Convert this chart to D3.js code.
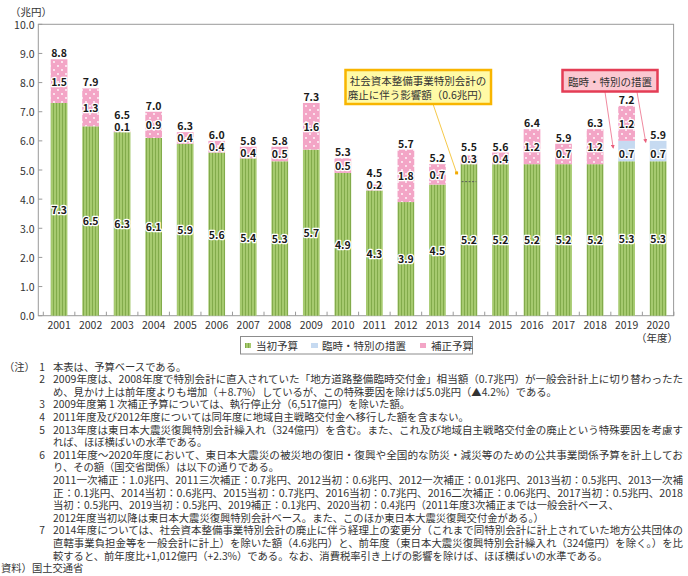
<!DOCTYPE html>
<html>
<head>
<meta charset="utf-8">
<script src="https://cdn.jsdelivr.net/npm/d3@7"></script>
<style>
  body { margin: 0; background: #fff; }
  text { font-family: "Noto Sans CJK JP", "Noto Sans", sans-serif; }
</style>
</head>
<body>
<div class="vis"></div>
<script>
// values (兆円)
const years = ["2001","2002","2003","2004","2005","2006","2007","2008","2009","2010",
    "2011","2012","2013","2014","2015","2016","2017","2018","2019","2020"];
const initialBudget = [7.3,6.5,6.3,6.1,5.9,5.6,5.4,5.3,5.7,4.9,4.3,3.9,4.5,5.2,5.2,5.2,5.2,5.2,5.3,5.3];
const specialMeasures = [0,0,0,0,0,0,0,0,0,0,0,0,0,0,0,0,0,0,0.7,0.7];
const supplementary = [1.5,1.3,0.1,0.9,0.4,0.4,0.4,0.5,1.6,0.5,0.2,1.8,0.7,0.3,0.4,1.2,0.7,1.2,1.2,0];
const totals = [8.8,7.9,6.5,7.0,6.3,6.0,5.8,5.8,7.3,5.3,4.5,5.7,5.2,5.5,5.6,6.4,5.9,6.3,7.2,5.9];
const yTicks = [0,1,2,3,4,5,6,7,8,9,10];
const seriesKeys = ["initial","special","supp"];
const seriesNames = ["当初予算","臨時・特別の措置","補正予算"];
const abolitionImpact = 0.6;   // 2014 社会資本整備事業特別会計の廃止に伴う影響額

const noteLines = [
    {head: "（注）", num: "1", text: "本表は、予算ベースである。"},
    {num: "2", text: "2009年度は、2008年度で特別会計に直入されていた「地方道路整備臨時交付金」相当額（0.7兆円）が一般会計計上に切り替わったた", full: true},
    {text: "め、見かけ上は前年度よりも増加（＋8.7%）しているが、この特殊要因を除けば5.0兆円（▲4.2%）である。"},
    {num: "3", text: "2009年度第 1 次補正予算については、執行停止分（6,517億円）を除いた額。"},
    {num: "4", text: "2011年度及び2012年度については同年度に地域自主戦略交付金へ移行した額を含まない。"},
    {num: "5", text: "2013年度は東日本大震災復興特別会計繰入れ（324億円）を含む。また、これ及び地域自主戦略交付金の廃止という特殊要因を考慮す", full: true},
    {text: "れば、ほぼ横ばいの水準である。"},
    {num: "6", text: "2011年度～2020年度において、東日本大震災の被災地の復旧・復興や全国的な防災・減災等のための公共事業関係予算を計上してお", full: true},
    {text: "り、その額（国交省関係）は以下の通りである。"},
    {text: "2011一次補正：1.0兆円、2011三次補正：0.7兆円、2012当初：0.6兆円、2012一次補正：0.01兆円、2013当初：0.5兆円、2013一次補", full: true},
    {text: "正：0.1兆円、2014当初：0.6兆円、2015当初：0.7兆円、2016当初：0.7兆円、2016二次補正：0.06兆円、2017当初：0.5兆円、2018", full: true},
    {text: "当初：0.5兆円、2019当初：0.5兆円、2019補正：0.1兆円、2020当初：0.4兆円（2011年度3次補正までは一般会計ベース、"},
    {text: "2012年度当初以降は東日本大震災復興特別会計ベース。また、このほか東日本大震災復興交付金がある。）"},
    {num: "7", text: "2014年度については、社会資本整備事業特別会計の廃止に伴う経理上の変更分（これまで同特別会計に計上されていた地方公共団体の", full: true},
    {text: "直轄事業負担金等を一般会計に計上）を除いた額（4.6兆円）と、前年度（東日本大震災復興特別会計繰入れ（324億円）を除く。）を比", full: true},
    {text: "較すると、前年度比+1,012億円（+2.3%）である。なお、消費税率引き上げの影響を除けば、ほぼ横ばいの水準である。"}
];

const width = 688, height = 576,
    plot = {left: 38.3, right: 673.6, top: 24.3, bottom: 315.7};

const svg = d3.select(".vis").append("svg")
    .attr("width", width)
    .attr("height", height);

const defs = svg.append("defs");

let pg = defs.append("pattern").attr("id", "pGreen")
    .attr("patternUnits", "userSpaceOnUse").attr("width", 3).attr("height", 10);
pg.append("rect").attr("width", 3).attr("height", 10).attr("fill", "#a6ca6f");
pg.append("rect").attr("x", 2).attr("width", 1).attr("height", 10).attr("fill", "#82ab4b");

let pp = defs.append("pattern").attr("id", "pPink")
    .attr("patternUnits", "userSpaceOnUse").attr("width", 8).attr("height", 8);
pp.append("rect").attr("width", 8).attr("height", 8).attr("fill", "#f3a5c6");
pp.append("circle").attr("cx", 2).attr("cy", 2).attr("r", 0.9).attr("fill", "#fff");
pp.append("circle").attr("cx", 6).attr("cy", 6).attr("r", 0.9).attr("fill", "#fff");

const fills = {initial: "url(#pGreen)", special: "#c6daf1", supp: "url(#pPink)"};

const x = d3.scaleBand()
    .domain(years)
    .range([43.3, 673.9])
    .paddingInner(0.47)
    .paddingOuter(0.235);

const y = d3.scaleLinear()
    .domain([0, 10])
    .range([plot.bottom, plot.top]);

const table = years.map((yr, i) => ({
    year: yr, initial: initialBudget[i], special: specialMeasures[i], supp: supplementary[i], total: totals[i]
}));

const stacked = d3.stack().keys(seriesKeys)(table);

// frame
svg.append("rect")
    .attr("x", plot.left).attr("y", plot.top)
    .attr("width", plot.right - plot.left).attr("height", plot.bottom - plot.top)
    .attr("fill", "none").attr("stroke", "#9a9a9a").attr("stroke-width", 1);

// y axis ticks + labels
svg.append("g").selectAll("line").data(yTicks).join("line")
    .attr("x1", plot.left).attr("x2", plot.left + 4)
    .attr("y1", d => y(d)).attr("y2", d => y(d))
    .attr("stroke", "#9a9a9a");

svg.append("g").selectAll("text").data(yTicks).join("text")
    .attr("x", 34.5).attr("y", d => y(d))
    .attr("text-anchor", "end").attr("dominant-baseline", "central")
    .style("font-size", "10.5px").attr("fill", "#333")
    .text(d => d.toFixed(1));

svg.append("text").attr("x", 10).attr("y", 11)
    .attr("dominant-baseline", "central")
    .style("font-size", "10.5px").attr("fill", "#333")
    .text("（兆円）");

// x axis ticks at band edges
const edges = years.map(yr => x(yr) - x.step() * x.paddingInner() / 2)
    .concat([x(years[years.length - 1]) + x.bandwidth() + x.step() * x.paddingInner() / 2]);
svg.append("g").selectAll("line").data(edges).join("line")
    .attr("x1", d => d).attr("x2", d => d)
    .attr("y1", plot.bottom).attr("y2", plot.bottom - 4)
    .attr("stroke", "#9a9a9a");

svg.append("g").selectAll("text").data(years).join("text")
    .attr("x", d => x(d) + x.bandwidth() / 2).attr("y", 324.5)
    .attr("text-anchor", "middle").attr("dominant-baseline", "central")
    .style("font-size", "10.5px").attr("fill", "#333")
    .text(d => d);

svg.append("text").attr("x", 657).attr("y", 337.5)
    .attr("text-anchor", "middle").attr("dominant-baseline", "central")
    .style("font-size", "10.5px").attr("fill", "#333")
    .text("（年度）");

// bars
svg.append("g").selectAll("g").data(stacked).join("g")
    .attr("fill", d => fills[d.key])
    .selectAll("rect").data(d => d.filter(s => s[1] > s[0])).join("rect")
    .attr("x", d => x(d.data.year))
    .attr("width", x.bandwidth())
    .attr("y", d => y(d[1]))
    .attr("height", d => y(d[0]) - y(d[1]));

// dashed line in 2014 bar
const y2014 = table.find(d => d.year === "2014");
svg.append("line")
    .attr("x1", x("2014") + 1).attr("x2", x("2014") + x.bandwidth() - 1)
    .attr("y1", y(y2014.initial - abolitionImpact)).attr("y2", y(y2014.initial - abolitionImpact))
    .attr("stroke", "#5a5a5a").attr("stroke-dasharray", "2,1.5");

// value labels
function valueLabel(g, px, py, txt) {
    g.append("text")
        .attr("x", px).attr("y", py)
        .attr("text-anchor", "middle").attr("dominant-baseline", "central")
        .style("font-size", "10.5px").style("font-weight", "bold")
        .attr("fill", "#1a1a1a")
        .attr("stroke", "#fff").attr("stroke-width", 2.6).attr("paint-order", "stroke")
        .attr("stroke-linejoin", "round")
        .text(txt);
}

const labels = svg.append("g");
table.forEach(d => {
    const cx = x(d.year) + x.bandwidth() / 2;
    valueLabel(labels, cx, (y(0) + y(d.initial)) / 2, d.initial.toFixed(1));
    let topLabel = y(d.initial + d.special + d.supp) - 6.5;
    if (d.special > 0) {
        valueLabel(labels, cx, (y(d.initial) + y(d.initial + d.special)) / 2 + 2, d.special.toFixed(1));
    }
    if (d.supp > 0) {
        const base = d.initial + d.special;
        const py = Math.min((y(base) + y(base + d.supp)) / 2, y(base) - 5.5);
        valueLabel(labels, cx, py, d.supp.toFixed(1));
        topLabel = Math.min(topLabel, py - 12);
    }
    valueLabel(labels, cx, topLabel, d.total.toFixed(1));
});

// annotation: 社会資本整備事業特別会計
const ann = svg.append("g");
ann.append("line")
    .attr("x1", 433).attr("y1", 104)
    .attr("x2", x("2014") - 4).attr("y2", y(4.9))
    .attr("stroke", "#f6c94a").attr("stroke-width", 1);
ann.append("rect")
    .attr("x", x("2014") - 5.5).attr("y", y(4.9) - 1.5)
    .attr("width", 3).attr("height", 3).attr("fill", "#f2a900");
ann.append("rect")
    .attr("x", 345.5).attr("y", 70).attr("width", 145.5).attr("height", 34)
    .attr("fill", "#fffaa6").attr("stroke", "#f8b500").attr("stroke-width", 2.5);
ann.selectAll("text.ybox").data(["社会資本整備事業特別会計の", "廃止に伴う影響額（0.6兆円）"]).join("text")
    .attr("class", "ybox")
    .attr("x", 418).attr("y", (d, i) => 80.5 + i * 13.5)
    .attr("text-anchor", "middle").attr("dominant-baseline", "central")
    .style("font-size", "10.5px").attr("fill", "#333")
    .text(d => d);

// annotation: 臨時・特別の措置
const arrowTargets = [
    {from: [605, 92], year: "2019", v: 5.75, dx: -5},
    {from: [637, 92], year: "2020", v: 5.95, dx: -4}
];
defs.append("marker").attr("id", "arrowRed")
    .attr("viewBox", "0 0 6 6").attr("refX", 5).attr("refY", 3)
    .attr("markerWidth", 4).attr("markerHeight", 4).attr("orient", "auto")
    .append("path").attr("d", "M0,0L6,3L0,6Z").attr("fill", "#ea5f7c");
ann.selectAll("line.red").data(arrowTargets).join("line")
    .attr("class", "red")
    .attr("x1", d => d.from[0]).attr("y1", d => d.from[1])
    .attr("x2", d => x(d.year) + d.dx).attr("y2", d => y(d.v))
    .attr("stroke", "#f08aa0").attr("stroke-width", 1)
    .attr("marker-end", "url(#arrowRed)");
ann.append("rect")
    .attr("x", 562.5).attr("y", 70).attr("width", 95).attr("height", 21.5)
    .attr("fill", "#fbc8d1").attr("stroke", "#e43d55").attr("stroke-width", 2.5);
ann.append("text")
    .attr("x", 610).attr("y", 81)
    .attr("text-anchor", "middle").attr("dominant-baseline", "central")
    .style("font-size", "10.5px").attr("fill", "#333")
    .text("臨時・特別の措置");

// legend
const legend = svg.append("g");
legend.append("rect")
    .attr("x", 240.5).attr("y", 336.5).attr("width", 232).attr("height", 17.5)
    .attr("fill", "#fff").attr("stroke", "#8c8c8c");
const legendPos = [245, 311, 420];
const legendFill = ["url(#pGreen)", "#c6daf1", "#f3a5c6"];
legend.selectAll("rect.sw").data(seriesNames).join("rect")
    .attr("class", "sw")
    .attr("x", (d, i) => legendPos[i]).attr("y", 343)
    .attr("width", (d, i) => i === 1 ? 7 : 6).attr("height", 5)
    .attr("fill", (d, i) => legendFill[i]);
legend.selectAll("text").data(seriesNames).join("text")
    .attr("x", (d, i) => legendPos[i] + 11).attr("y", 345.5)
    .attr("dominant-baseline", "central")
    .style("font-size", "10.5px").attr("fill", "#333")
    .text(d => d);

// notes
const notes = svg.append("g").attr("fill", "#333").style("font-size", "10.3px");
noteLines.forEach((n, i) => {
    const ly = 366 + i * 12.6;
    if (n.head) notes.append("text").attr("x", 4).attr("y", ly).attr("dominant-baseline", "central").text(n.head);
    if (n.num) notes.append("text").attr("x", 42).attr("y", ly).attr("text-anchor", "middle")
        .attr("dominant-baseline", "central").text(n.num);
    const t = notes.append("text").attr("x", 53).attr("y", ly)
        .attr("dominant-baseline", "central").text(n.text);
    if (n.full) t.attr("textLength", 683 - 53).attr("lengthAdjust", "spacingAndGlyphs");
});
notes.append("text").attr("x", 1).attr("y", 366 + noteLines.length * 12.6)
    .attr("dominant-baseline", "central").text("資料）国土交通省");
</script>
</body>
</html>
